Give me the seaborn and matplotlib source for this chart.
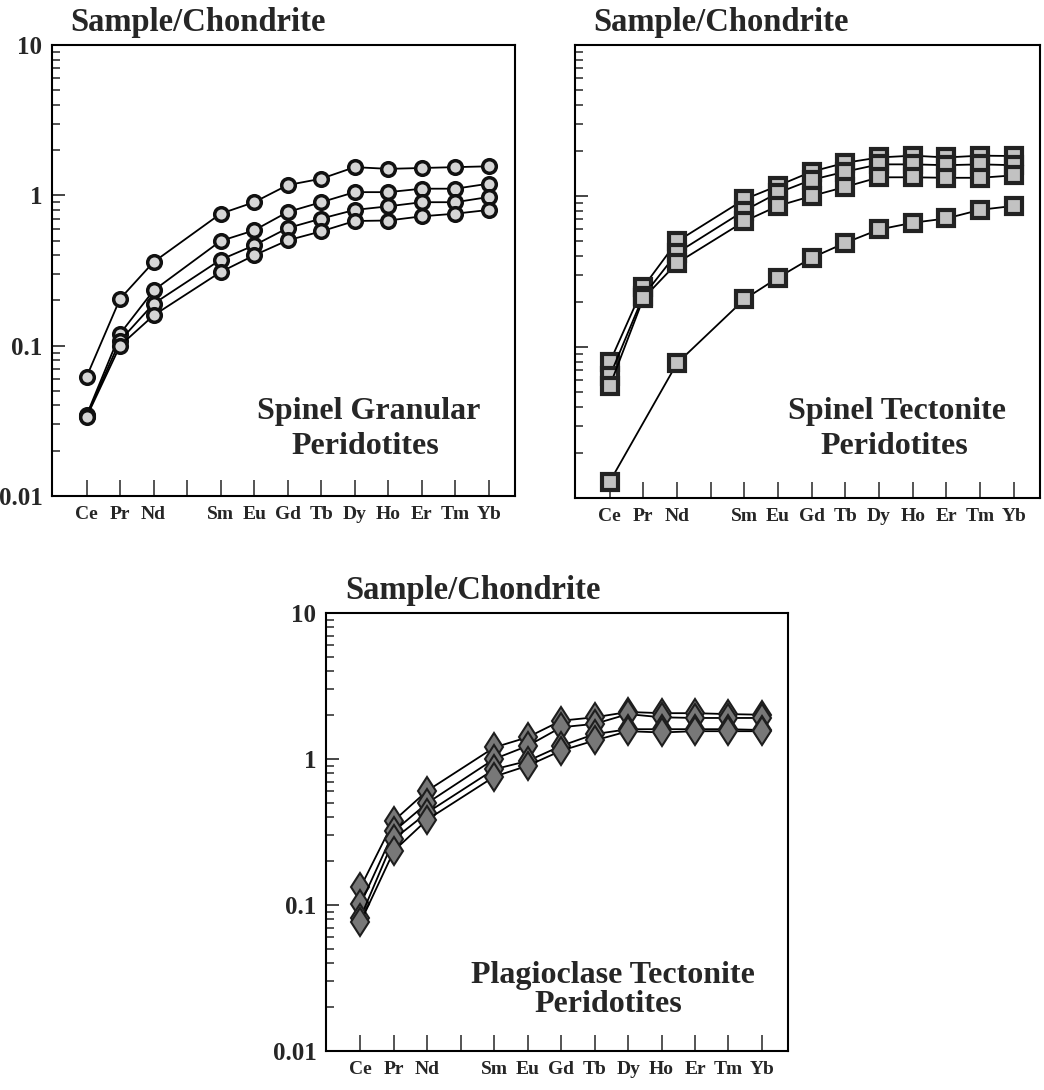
import numpy as np
import pandas as pd
import matplotlib
matplotlib.use("Agg")
import matplotlib.pyplot as plt
import seaborn as sns
from matplotlib.ticker import FixedLocator, NullFormatter, LogLocator

# ---------------- data ----------------
tick_labels = ["Ce", "Pr", "Nd", "", "Sm", "Eu", "Gd", "Tb", "Dy", "Ho", "Er", "Tm", "Yb"]
elements = ["Ce", "Pr", "Nd", "Sm", "Eu", "Gd", "Tb", "Dy", "Ho", "Er", "Tm", "Yb"]

granular_1 = [0.062, 0.205, 0.36, 0.755, 0.90, 1.17, 1.29, 1.54, 1.50, 1.52, 1.54, 1.56]
granular_2 = [0.0344, 0.12, 0.233, 0.497, 0.585, 0.775, 0.90, 1.05, 1.05, 1.107, 1.107, 1.196]
granular_3 = [0.034, 0.108, 0.19, 0.373, 0.465, 0.606, 0.70, 0.80, 0.845, 0.90, 0.90, 0.975]
granular_4 = [0.0335, 0.10, 0.159, 0.309, 0.399, 0.502, 0.576, 0.675, 0.68, 0.725, 0.755, 0.80]

tectonite_1 = [0.079, 0.25, 0.50, 0.95, 1.17, 1.45, 1.66, 1.80, 1.85, 1.80, 1.85, 1.84]
tectonite_2 = [0.064, 0.218, 0.42, 0.80, 1.05, 1.28, 1.45, 1.62, 1.62, 1.60, 1.62, 1.60]
tectonite_3 = [0.055, 0.21, 0.36, 0.68, 0.86, 1.00, 1.15, 1.33, 1.33, 1.32, 1.32, 1.37]
tectonite_4 = [0.0128, np.nan, 0.078, 0.207, 0.288, 0.39, 0.49, 0.60, 0.665, 0.71, 0.81, 0.86]

plag_1 = [0.132, 0.378, 0.607, 1.20, 1.41, 1.83, 1.93, 2.10, 2.06, 2.06, 2.03, 2.01]
plag_2 = [0.101, 0.32, 0.50, 1.00, 1.23, 1.65, 1.74, 2.03, 1.93, 1.91, 1.91, 1.91]
plag_3 = [0.082, 0.283, 0.43, 0.85, 0.97, 1.23, 1.48, 1.60, 1.60, 1.60, 1.60, 1.58]
plag_4 = [0.076, 0.235, 0.385, 0.757, 0.90, 1.14, 1.34, 1.55, 1.52, 1.55, 1.55, 1.55]

y_major = [0.01, 0.1, 1, 10]
y_major_labels = ["0.01", "0.1", "1", "10"]

title_text = "Sample/Chondrite"
panel_names = [("Spinel Granular", "Peridotites"),
               ("Spinel Tectonite", "Peridotites"),
               ("Plagioclase Tectonite", "Peridotites")]


def long_frame(series_list):
    rows = []
    for i, vals in enumerate(series_list):
        for el, v in zip(elements, vals):
            rows.append({"sample": i, "pos": tick_labels.index(el), "value": v})
    df = pd.DataFrame(rows)
    return df.dropna()


# ---------------- style ----------------
sns.set_style("ticks")
plt.rcParams["font.family"] = ["Liberation Serif", "DejaVu Serif"]
plt.rcParams["font.weight"] = "bold"

W, H = 1044, 1090
fig = plt.figure(figsize=(W / 100, H / 100), dpi=100)


def px_axes(x0, y0, x1, y1):
    return fig.add_axes([x0 / W, 1 - y1 / H, (x1 - x0) / W, (y1 - y0) / H])


ax1 = px_axes(52, 45, 515, 496)
ax2 = px_axes(575, 45, 1040, 498)
ax3 = px_axes(326, 613, 788, 1051)

panels = [
    (ax1, [granular_1, granular_2, granular_3, granular_4],
     dict(marker="o", markersize=9.8, markerfacecolor="#d6d6d6", markeredgecolor="#111111", markeredgewidth=2.5), True),
    (ax2, [tectonite_1, tectonite_2, tectonite_3, tectonite_4],
     dict(marker="s", markersize=11.5, markerfacecolor="#c2c2c2", markeredgecolor="#222222", markeredgewidth=3.0), False),
    (ax3, [plag_1, plag_2, plag_3, plag_4],
     dict(marker="d", markersize=14.5, markerfacecolor="#787878", markeredgecolor="#1e1e1e", markeredgewidth=1.5), True),
]

for ax, series, mk, show_ylabels in panels:
    df = long_frame(series)
    sns.lineplot(data=df, x="pos", y="value", units="sample", estimator=None,
                 color="black", linewidth=1.3, ax=ax, legend=False, **mk)
    ax.set_yscale("log")
    ax.set_ylim(0.01, 10)
    ax.set_xlim(-1.03, 12.78)
    ax.set_xlabel("")
    ax.set_ylabel("")
    ax.yaxis.set_major_locator(FixedLocator(y_major))
    ax.yaxis.set_minor_locator(LogLocator(base=10, subs=np.arange(2, 10)))
    ax.yaxis.set_minor_formatter(NullFormatter())
    if show_ylabels:
        ax.set_yticklabels(y_major_labels)
    else:
        ax.set_yticklabels([""] * len(y_major))
    ax.set_xticks(range(len(tick_labels)))
    ax.set_xticklabels(tick_labels)
    ax.tick_params(axis="y", which="major", direction="in", length=9, width=1.2,
                   labelsize=18, pad=7, left=True, right=False)
    ax.tick_params(axis="y", which="minor", direction="in", length=6, width=1.1,
                   left=True, right=False)
    ax.tick_params(axis="x", which="both", direction="in", length=11.5, width=1.1,
                   labelsize=14, pad=7, top=False, bottom=True)
    ax.xaxis.set_minor_locator(FixedLocator([]))
    for lab in ax.get_xticklabels() + ax.get_yticklabels():
        lab.set_fontweight("bold")
    for s in ax.spines.values():
        s.set_visible(True)
        s.set_color("black")
        s.set_linewidth(1.5)

# titles
for (x, y) in [(70, 22), (593, 22), (345, 590)]:
    fig.text(x / W, 1 - y / H, title_text, fontsize=23.5, fontweight="bold",
             ha="left", va="center")

# annotations
ann = [
    ((369, 412), (365, 447)),
    ((897, 412), (894, 447)),
    ((613, 975), (608, 1005)),
]
for (names, ((xa, ya), (xb, yb))) in zip(panel_names, ann):
    fig.text(xa / W, 1 - ya / H, names[0], fontsize=23, fontweight="bold", ha="center", va="center")
    fig.text(xb / W, 1 - yb / H, names[1], fontsize=23, fontweight="bold", ha="center", va="center")

fig.savefig("out.png", dpi=100)
